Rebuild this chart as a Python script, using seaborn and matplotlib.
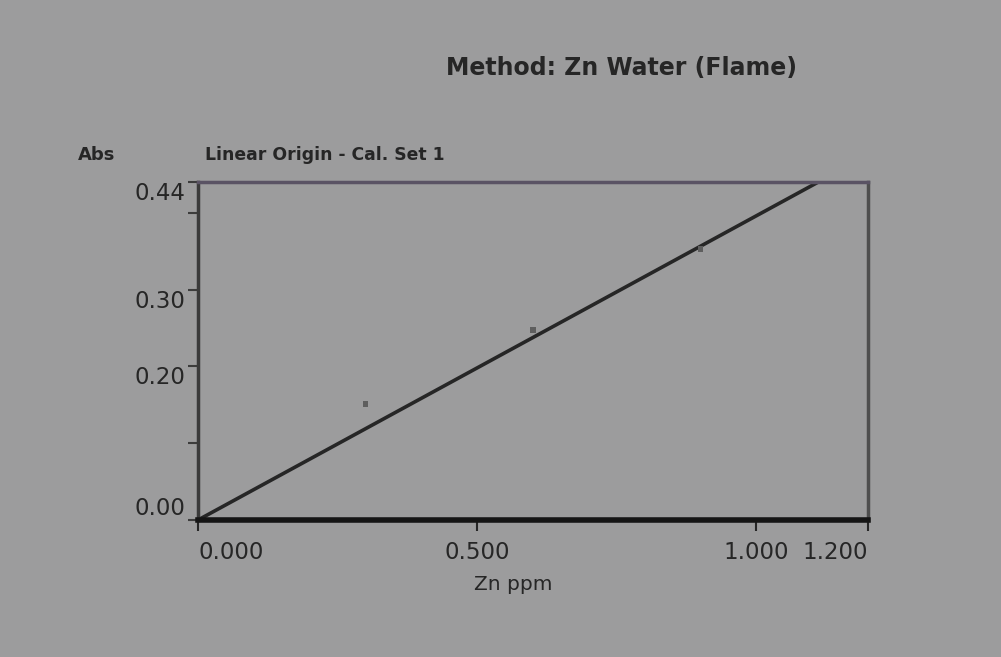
import matplotlib
matplotlib.use("Agg")
import matplotlib.pyplot as plt
import seaborn as sns
import numpy as np

# Calibration standards (Zn ppm) and measured absorbance
conc = [0.3, 0.6, 0.9]
absorb = [0.151, 0.247, 0.353]

# Linear-through-origin calibration slope (Abs per ppm)
cal_slope = 0.396

# Axis ranges and tick labels
x_max = 1.2
y_max = 0.44
x_ticks = [0.0, 0.5, 1.0, 1.2]
x_tick_labels = ["0.000", "0.500", "1.000", "1.200"]
y_ticks = [0.0, 0.2, 0.3, 0.44]
y_tick_labels = ["0.00", "0.20", "0.30", "0.44"]
y_minor = [0.1, 0.4]

BG = "#9c9c9d"
INK = "#262626"

sns.set_style("ticks")
plt.rcParams["font.family"] = ["DejaVu Sans"]

fig = plt.figure(figsize=(10.01, 6.57), dpi=100, facecolor=BG)
ax = fig.add_axes([198 / 1001, 1 - 520 / 657, (868 - 198) / 1001, (520 - 182) / 657])
ax.set_facecolor(BG)

# Fitted calibration line from the origin to the top of the plot
fit_x = np.array([0.0, y_max / cal_slope])
fit_y = cal_slope * fit_x
sns.lineplot(x=fit_x, y=fit_y, ax=ax, color=INK, lw=2.6)

# Standards
sns.scatterplot(x=conc, y=absorb, ax=ax, marker="s", s=18,
                color="#5e5e5e", edgecolor="none", zorder=3)

ax.set_xlim(0, x_max)
ax.set_ylim(0, y_max)

ax.set_xticks(x_ticks)
ax.set_xticklabels(x_tick_labels)
ax.set_yticks(y_ticks)
ax.set_yticklabels(y_tick_labels)
ax.set_yticks(y_minor, minor=True)

ax.tick_params(axis="x", which="major", direction="out", length=8, width=1.5,
               color=INK, labelsize=16.5, labelcolor=INK, pad=7)
ax.tick_params(axis="y", which="both", direction="out", length=7, width=1.5,
               color="#3c3c3c", labelsize=16.5, labelcolor=INK, pad=2)

xl = ax.get_xticklabels()
xl[0].set_horizontalalignment("left")
xl[-1].set_horizontalalignment("right")
yl = ax.get_yticklabels()
yl[0].set_verticalalignment("bottom")
for t in yl[1:]:
    t.set_verticalalignment("top")

# Frame
ax.spines["bottom"].set_linewidth(4)
ax.spines["bottom"].set_color("#151515")
ax.spines["left"].set_linewidth(2.5)
ax.spines["left"].set_color("#3a3a3a")
ax.spines["top"].set_linewidth(2.5)
ax.spines["top"].set_color("#5a5364")
ax.spines["right"].set_linewidth(2.5)
ax.spines["right"].set_color("#4e4e4e")
for s in ax.spines.values():
    s.set_visible(True)

ax.set_xlabel("Zn ppm", fontsize=14.5, color=INK, va="center")
ax.xaxis.set_label_coords((513 - 198) / 670, (520 - 585) / 338)
ax.set_ylabel("")

fig.text(622 / 1001, 1 - 68 / 657, "Method: Zn Water (Flame)", ha="center",
         va="center", fontsize=17, fontweight="bold", color=INK)
fig.text(205 / 1001, 1 - 155 / 657, "Linear Origin - Cal. Set 1", ha="left",
         va="center", fontsize=12.4, fontweight="bold", color=INK)
fig.text(78 / 1001, 1 - 155 / 657, "Abs", ha="left", va="center",
         fontsize=13, fontweight="bold", color=INK)

fig.savefig("out.png", dpi=100, facecolor=BG)
